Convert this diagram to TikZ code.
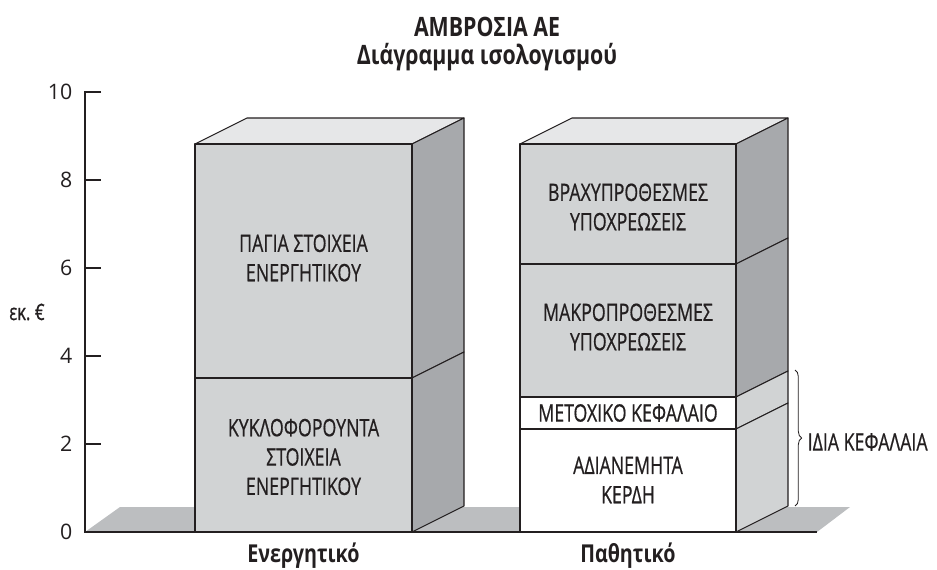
\documentclass[tikz,border=0pt]{standalone}
\usepackage{fontspec}
\setmainfont{Open Sans}
\newfontfamily\narrowfont[FakeStretch=0.74,FakeBold=0.6]{Open Sans}
\newfontfamily\narrowbold[FakeStretch=0.8]{Open Sans Bold}
\usetikzlibrary{decorations.pathreplacing}
\definecolor{inkline}{HTML}{231F20}
\definecolor{frontgrey}{HTML}{D1D3D4}
\definecolor{topgrey}{HTML}{E6E7E8}
\definecolor{sidegrey}{HTML}{A7A9AC}
\definecolor{floorgrey}{HTML}{BCBEC0}
\tikzset{
  facebox/.style={draw=inkline,line width=0.8pt,line join=round},
  frontbox/.style={facebox,fill=frontgrey},
  whitebox/.style={facebox,fill=white},
  topbox/.style={facebox,fill=topgrey},
  sidebox/.style={facebox,fill=sidegrey},
  boxlabel/.style={font=\narrowfont\fontsize{18}{22}\selectfont,align=center,text=inkline},
  barname/.style={font=\narrowbold\fontsize{18.5}{20}\selectfont,text=inkline},
  ticklabel/.style={text=inkline,font=\fontsize{16}{18}\selectfont}
}
\begin{document}
\begin{tikzpicture}[x=0.75pt,y=-0.75pt]
\useasboundingbox (0,0) rectangle (937,570);
\node[barname,font=\narrowbold\fontsize{20}{22}\selectfont] (title) at (487,27) {ΑΜΒΡΟΣΙΑ ΑΕ};
\node[barname,font=\narrowbold\fontsize{20}{22}\selectfont] (subtitle) at (487,57) {Διάγραμμα ισολογισμού};

\fill[floorgrey] (85,532) -- (120,507) -- (850,507) -- (817,532) -- cycle;
\draw[inkline,line width=0.8pt] (101,92) -- (85,92) -- (85,532) -- (817,532);
\foreach \v in {0,2,...,10}{
  \draw[inkline,line width=0.8pt] (85,532-44*\v) -- (101,532-44*\v);
  \node[ticklabel,anchor=east] (tick\v) at (77,532-44*\v) {\v};
}
\node[ticklabel,font=\narrowfont\fontsize{17}{18}\selectfont] (ylabel) at (27,312) {εκ.~€};

\draw[topbox] (195,144) -- (247,118) -- (464,118) -- (412,144) -- cycle;
\draw[sidebox] (412,144) -- (464,118) -- (464,352) -- (412,378) -- cycle;
\draw[sidebox] (412,378) -- (464,352) -- (464,506) -- (412,532) -- cycle;
\draw[frontbox] (195,144) rectangle (412,378);
\draw[frontbox] (195,378) rectangle (412,532);
\node[boxlabel] (fixed) at (303.5,258) {ΠΑΓΙΑ ΣΤΟΙΧΕΙΑ\\ΕΝΕΡΓΗΤΙΚΟΥ};
\node[boxlabel] (current) at (303.5,457) {ΚΥΚΛΟΦΟΡΟΥΝΤΑ\\ΣΤΟΙΧΕΙΑ\\ΕΝΕΡΓΗΤΙΚΟΥ};

\draw[topbox] (520,144) -- (572,118) -- (788,118) -- (736,144) -- cycle;
\draw[sidebox] (736,144) -- (788,118) -- (788,238) -- (736,264) -- cycle;
\draw[sidebox] (736,264) -- (788,238) -- (788,371) -- (736,397) -- cycle;
\draw[frontbox] (736,397) -- (788,371) -- (788,403) -- (736,429) -- cycle;
\draw[frontbox] (736,429) -- (788,403) -- (788,506) -- (736,532) -- cycle;
\draw[frontbox] (520,144) rectangle (736,264);
\draw[frontbox] (520,264) rectangle (736,397);
\draw[whitebox] (520,397) rectangle (736,429);
\draw[whitebox] (520,429) rectangle (736,532);
\node[boxlabel] (shortterm) at (628,207) {ΒΡΑΧΥΠΡΟΘΕΣΜΕΣ\\ΥΠΟΧΡΕΩΣΕΙΣ};
\node[boxlabel] (longterm) at (628,327) {ΜΑΚΡΟΠΡΟΘΕΣΜΕΣ\\ΥΠΟΧΡΕΩΣΕΙΣ};
\node[boxlabel] (capital) at (628,413) {ΜΕΤΟΧΙΚΟ ΚΕΦΑΛΑΙΟ};
\node[boxlabel] (retained) at (628,480) {ΑΔΙΑΝΕΜΗΤΑ\\ΚΕΡΔΗ};

\coordinate (bracetop) at (795,370);
\coordinate (bracebot) at (795,506);
\draw[inkline,line width=0.6pt,decorate,decoration={brace,amplitude=5pt}] (bracetop) -- (bracebot);
\node[boxlabel,anchor=west] (equity) at (803,442) {ΙΔΙΑ ΚΕΦΑΛΑΙΑ};

\node[barname] (assets) at (303.5,556) {Ενεργητικό};
\node[barname] (liabilities) at (628,556) {Παθητικό};
\end{tikzpicture}
\end{document}
